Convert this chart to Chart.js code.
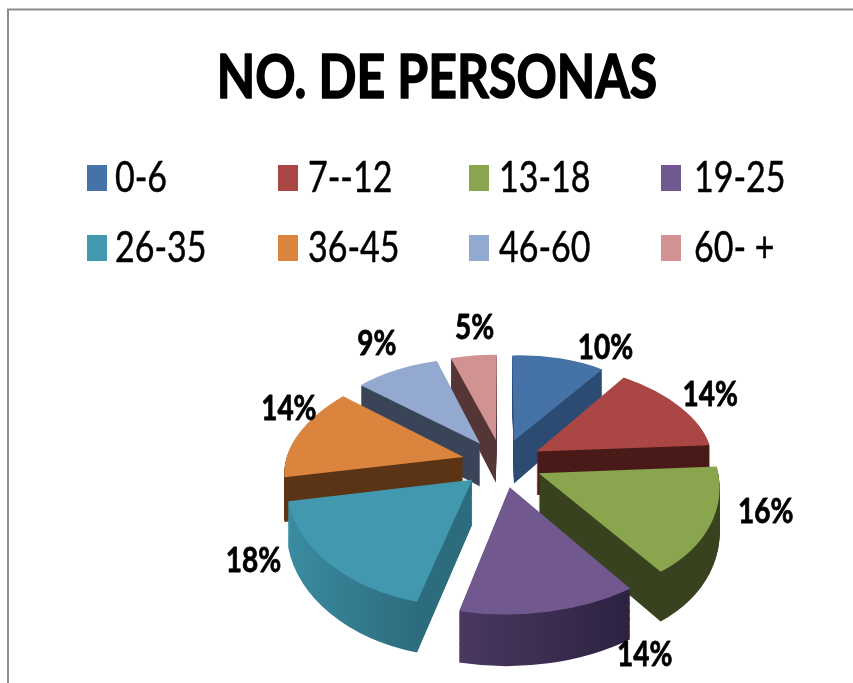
<!DOCTYPE html>
<html><head><meta charset="utf-8">
<style>html,body{margin:0;padding:0;background:#fff}canvas{display:block}</style>
<script src="https://cdn.jsdelivr.net/npm/chart.js@4"></script>
</head><body><canvas id="c" width="853" height="683"></canvas>
<script>
const chartTitle = 'NO. DE PERSONAS';
const categories = ['0-6','7--12','13-18','19-25','26-35','36-45','46-60','60- +'];
const values = [10,14,16,14,18,14,9,5];
const topColors = ['#4572A7','#AA4643','#89A54E','#71588F','#4198AF','#DB843D','#93A9CF','#D19392'];
const wallColors = [['#2c4b73','#2c4b73'],['#4a1a18','#4a1a18'],['#38421e','#38421e'],['#4a3860','#2c2240'],['#3a8ca2','#2d6c7d'],['#5a3414','#5a3414'],['#3a4458','#3a4458'],['#553636','#553636']];
const labelNudge = [[47,-11],[33,-10],[52,-11],[95,42],[-71,-2],[-11,-23],[-20,-26],[1,-28]];
const PERSP = 0.14, TILT = 0.6, EXPLODE = 40, DEPTH = 44;

function txt(ctx, s, x, y, font, align, squeeze, bold) {
  ctx.save();
  ctx.font = font; ctx.fillStyle = '#000'; ctx.strokeStyle = '#000'; ctx.textBaseline = 'middle'; ctx.textAlign = align;
  ctx.translate(x, y); ctx.scale(squeeze, 1);
  if (bold) { ctx.lineWidth = bold; ctx.lineJoin = 'round'; ctx.strokeText(s, 0, 0); }
  ctx.fillText(s, 0, 0);
  ctx.restore();
}

const pie3d = {
  id: 'pie3d',
  beforeDraw(chart) {
    const ctx = chart.ctx;
    ctx.save();
    ctx.strokeStyle = '#8c8c8c'; ctx.lineWidth = 2;
    ctx.beginPath(); ctx.moveTo(8, 683); ctx.lineTo(8, 9.5); ctx.lineTo(853, 9.5); ctx.stroke();
    ctx.restore();
    txt(ctx, chartTitle, 437, 78, 'bold 62px Lato', 'center', 0.805, 1.6);
    const colX = [87, 278, 469, 661], textX = [115, 308, 499, 694], rowY = [178, 248];
    categories.forEach((c, i) => {
      const x = colX[i % 4], y = rowY[Math.floor(i / 4)];
      ctx.fillStyle = topColors[i];
      ctx.fillRect(x, y - 13, 20, 26);
      txt(ctx, c, textX[i % 4], y, '42px Lato', 'left', 0.81, 0.5);
    });
  },
  beforeDatasetDraw() { return false; },
  afterDatasetsDraw(chart) {
    const ctx = chart.ctx, arcs = chart.getDatasetMeta(0).data;
    const cx = arcs[0].x, cy = arcs[0].y, R = arcs[0].outerRadius;
    const project = (wx, wy, z) => {
      const s = 1 + PERSP * wy / R;
      return [cx + wx * s, cy + TILT * wy * s + z * s];
    };
    const drawSlice = (arc, i, z, colorOverride) => {
      const a1 = arc.startAngle, a2 = arc.endAngle, m = (a1 + a2) / 2;
      const ox = EXPLODE * Math.cos(m), oy = EXPLODE * Math.sin(m);
      const u = [R * Math.cos(a1), R * Math.sin(a1)], v = [R * Math.cos(a2), R * Math.sin(a2)];
      const d0 = project(ox, oy, z);
      const d1 = project(ox + u[0], oy + u[1], z), d2 = project(ox + v[0], oy + v[1], z);
      const U = [d1[0] - d0[0], d1[1] - d0[1]], V = [d2[0] - d0[0], d2[1] - d0[1]];
      const det = u[0] * v[1] - v[0] * u[1];
      const i00 = v[1] / det, i01 = -v[0] / det, i10 = -u[1] / det, i11 = u[0] / det;
      const A = U[0] * i00 + V[0] * i10, C = U[0] * i01 + V[0] * i11;
      const B = U[1] * i00 + V[1] * i10, D = U[1] * i01 + V[1] * i11;
      ctx.save();
      ctx.transform(A, B, C, D, d0[0] - A * cx - C * cy, d0[1] - B * cx - D * cy);
      const proxy = Object.create(arc);
      let fill = arc.options.backgroundColor;
      if (colorOverride) {
        const g = ctx.createLinearGradient(cx + Math.min(u[0], v[0]), cy, cx + Math.max(u[0], v[0]), cy);
        g.addColorStop(0, colorOverride[0]); g.addColorStop(1, colorOverride[1]);
        fill = g;
      }
      proxy.options = Object.assign({}, arc.options, { backgroundColor: fill, borderWidth: 0, offset: 0 });
      Object.getPrototypeOf(arc).draw.call(proxy, ctx);
      ctx.restore();
    };
    const order = arcs.map((a, i) => i).sort((p, q) => {
      const mp = (arcs[p].startAngle + arcs[p].endAngle) / 2, mq = (arcs[q].startAngle + arcs[q].endAngle) / 2;
      return Math.sin(mp) - Math.sin(mq);
    });
    order.forEach(i => {
      for (let z = DEPTH; z > 0; z -= 1) drawSlice(arcs[i], i, z, wallColors[i]);
      drawSlice(arcs[i], i, 0, null);
    });
    const total = values.reduce((a, b) => a + b, 0);
    arcs.forEach((arc, i) => {
      const m = (arc.startAngle + arc.endAngle) / 2, r = EXPLODE + R;
      const p = project(r * Math.cos(m), r * Math.sin(m), 0);
      txt(ctx, Math.round(values[i] / total * 100) + '%', p[0] + labelNudge[i][0], p[1] + labelNudge[i][1], 'bold 35px Lato', 'center', 0.8, 0.8);
    });
  }
};

new Chart(document.getElementById('c'), {
  type: 'pie',
  data: { labels: categories, datasets: [{ data: values, backgroundColor: topColors, borderWidth: 0 }] },
  options: {
    responsive: false, animation: false,
    layout: { padding: { left: 324, right: 173, top: 285, bottom: 42 } },
    plugins: { legend: { display: false }, title: { display: false }, tooltip: { enabled: false } }
  },
  plugins: [pie3d]
});
</script></body></html>
